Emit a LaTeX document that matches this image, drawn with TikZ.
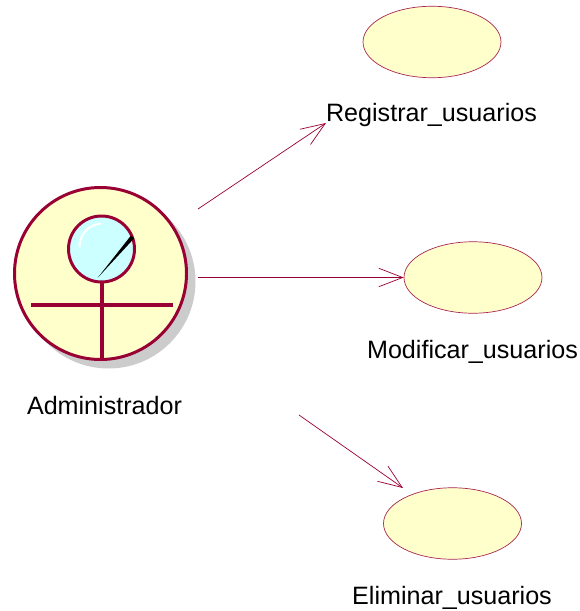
\documentclass[tikz,border=0pt]{standalone}
\usepackage{fontspec}
\setmainfont{Liberation Sans}
\usepackage{xcolor}
\usetikzlibrary{arrows.meta}
\usetikzlibrary{shapes.geometric}
\definecolor{roseline}{HTML}{990033}
\definecolor{rosefill}{HTML}{FFFFCC}
\definecolor{headfill}{HTML}{CCFFFF}
\definecolor{shadowgray}{HTML}{CCCCCC}
\tikzset{
    usecase/.style={ellipse, draw=roseline!85, fill=rosefill, line width=0.4pt, minimum width=2.76cm, minimum height=1.43cm, inner sep=0pt},
    caption/.style={font=\fontsize{14.3pt}{17pt}\selectfont, text=black, inner sep=0pt},
    actorline/.style={draw=roseline, line width=1.7pt},
    assoc/.style={draw=roseline, line width=0.4pt, -{Straight Barb[length=13.6pt,width=10.5pt]}}
}

\begin{document}
\begin{tikzpicture}[x=0.02cm, y=-0.02cm]
    \useasboundingbox (0, 0) rectangle (580, 611);

    % Actor
    \fill[shadowgray] (108.5, 281.5) circle[radius=87];
    \draw[actorline, fill=rosefill] (100.5, 273.5) circle[radius=86];
    \draw[actorline, fill=headfill] (101.5, 249) circle[radius=33];
    \draw[white, line width=1.2pt, line cap=round] (79.5, 246.5) arc[start angle=180, end angle=265, radius=23];
    \fill[black] (97.5, 278) -- (131, 235.5) -- (134, 238.5) -- cycle;
    \draw[actorline, line width=2pt] (102, 282) -- (102, 360);
    \draw[actorline, line width=2pt] (31, 305) -- (173, 305);
    \node[caption] (admin) at (104.5, 405.5) {Administrador};

    % Use cases
    \node[usecase] (registrar) at (432, 42) {};
    \node[caption] (registrarlabel) at (431.5, 115.5) {Registrar\_usuarios};
    \node[usecase] (modificar) at (473, 277.5) {};
    \node[caption] (modificarlabel) at (472.5, 351.5) {Modificar\_usuarios};
    \node[usecase] (eliminar) at (452.5, 523.5) {};
    \node[caption] (eliminarlabel) at (452, 597.5) {Eliminar\_usuarios};

    % Associations
    \coordinate (actorone) at (198, 209);
    \coordinate (actortwo) at (198, 277.5);
    \coordinate (actorthree) at (299, 415);
    \coordinate (registrarin) at (326, 123);
    \coordinate (eliminarin) at (403, 488);
    \draw[assoc] (actorone) -- (registrarin);
    \draw[assoc] (actortwo) -- (modificar.west);
    \draw[assoc] (actorthree) -- (eliminarin);
\end{tikzpicture}
\end{document}
